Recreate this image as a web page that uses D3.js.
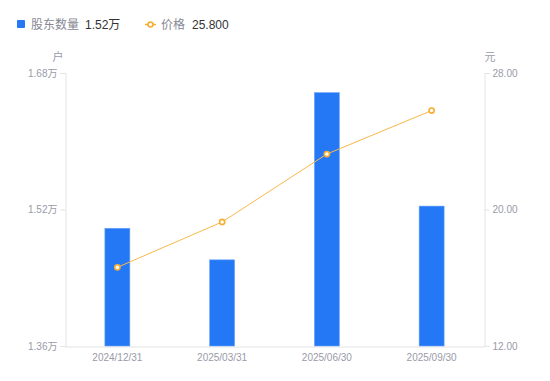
<!DOCTYPE html>
<html><head><meta charset="utf-8">
<script src="https://cdn.jsdelivr.net/npm/d3@7"></script>
<style>
body{margin:0;background:#fff;}
text{font-family:"Liberation Sans","Noto Sans CJK SC",Arial,sans-serif;}
</style></head>
<body><svg id="c" width="550" height="381"></svg>
<script>
const categories = ["2024/12/31","2025/03/31","2025/06/30","2025/09/30"];
const holders = [1.498, 1.461, 1.657, 1.524]; // 万户
const prices = [16.61, 19.27, 23.25, 25.80];
const leftTicks = [1.36, 1.52, 1.68];
const rightTicks = [12, 20, 28];

const svg = d3.select("#c");
const m = {l:65, r:484, t:73, b:346};
const x = d3.scaleBand().domain(categories).range([m.l, m.r]);
const yL = d3.scaleLinear().domain([1.36,1.68]).range([m.b, m.t]);
const yR = d3.scaleLinear().domain([12,28]).range([m.b, m.t]);
const gray = "#e3e3e6", lab = "#9a9aa8";

// axes
const axL = svg.append("g").attr("transform",`translate(${m.l+0.5},0)`)
  .call(d3.axisLeft(yL).tickValues(leftTicks).tickSize(5).tickPadding(3).tickFormat(d=>d3.format(".2f")(d)+"万"));
const axR = svg.append("g").attr("transform",`translate(${m.r+0.5},0)`)
  .call(d3.axisRight(yR).tickValues(rightTicks).tickSize(5).tickPadding(3).tickFormat(d3.format(".2f")));
const axB = svg.append("g").attr("transform",`translate(0,${m.b+0.5})`)
  .call(d3.axisBottom(x).tickSize(0).tickPadding(7));
[axL,axR,axB].forEach(a=>{
  a.selectAll("path").attr("stroke",gray);
  a.selectAll("line").attr("stroke",gray);
  a.selectAll("text").attr("fill",lab).attr("font-size",10).style("font-family","Liberation Sans, Noto Sans CJK SC, Arial, sans-serif");
});

svg.append("text").attr("x",58).attr("y",61).attr("text-anchor","middle").attr("fill",lab).attr("font-size",11).style("font-family","Noto Sans CJK SC").text("户");
svg.append("text").attr("x",490).attr("y",61).attr("text-anchor","middle").attr("fill",lab).attr("font-size",11).style("font-family","Noto Sans CJK SC").text("元");

// bars
const bw = 25;
svg.append("g").selectAll("rect").data(holders).join("rect")
  .attr("x",(d,i)=>x(categories[i])+x.bandwidth()/2-bw/2)
  .attr("y",d=>yL(d))
  .attr("width",bw)
  .attr("height",d=>m.b-yL(d))
  .attr("fill","#2478f5")
  .attr("stroke","#6ea6f8").attr("stroke-width",0.6);

// line
const line = d3.line().x((d,i)=>x(categories[i])+x.bandwidth()/2).y(d=>yR(d));
svg.append("path").datum(prices).attr("d",line).attr("fill","none").attr("stroke","#f8b84a").attr("stroke-width",1);
svg.append("g").selectAll("circle").data(prices).join("circle")
  .attr("cx",(d,i)=>x(categories[i])+x.bandwidth()/2).attr("cy",d=>yR(d)).attr("r",2.6)
  .attr("fill","#fff").attr("stroke","#f7ad2f").attr("stroke-width",1.6);

// legend
const lg = svg.append("g");
lg.append("rect").attr("x",17).attr("y",20).attr("width",8).attr("height",8).attr("rx",1).attr("fill","#2478f5");
lg.append("text").attr("x",31).attr("y",29).attr("fill","#888894").attr("font-size",12).style("font-family","Noto Sans CJK SC").text("股东数量");
lg.append("text").attr("x",85).attr("y",29).attr("fill","#333").attr("font-size",12).text("1.52万");
lg.append("line").attr("x1",145).attr("x2",156).attr("y1",24.5).attr("y2",24.5).attr("stroke","#f7ad2f").attr("stroke-width",1.5);
lg.append("circle").attr("cx",150.5).attr("cy",24.5).attr("r",2.5).attr("fill","#fff").attr("stroke","#f7ad2f").attr("stroke-width",1.6);
lg.append("text").attr("x",161).attr("y",29).attr("fill","#888894").attr("font-size",12).style("font-family","Noto Sans CJK SC").text("价格");
lg.append("text").attr("x",192).attr("y",29).attr("fill","#333").attr("font-size",12).text("25.800");
</script></body></html>
